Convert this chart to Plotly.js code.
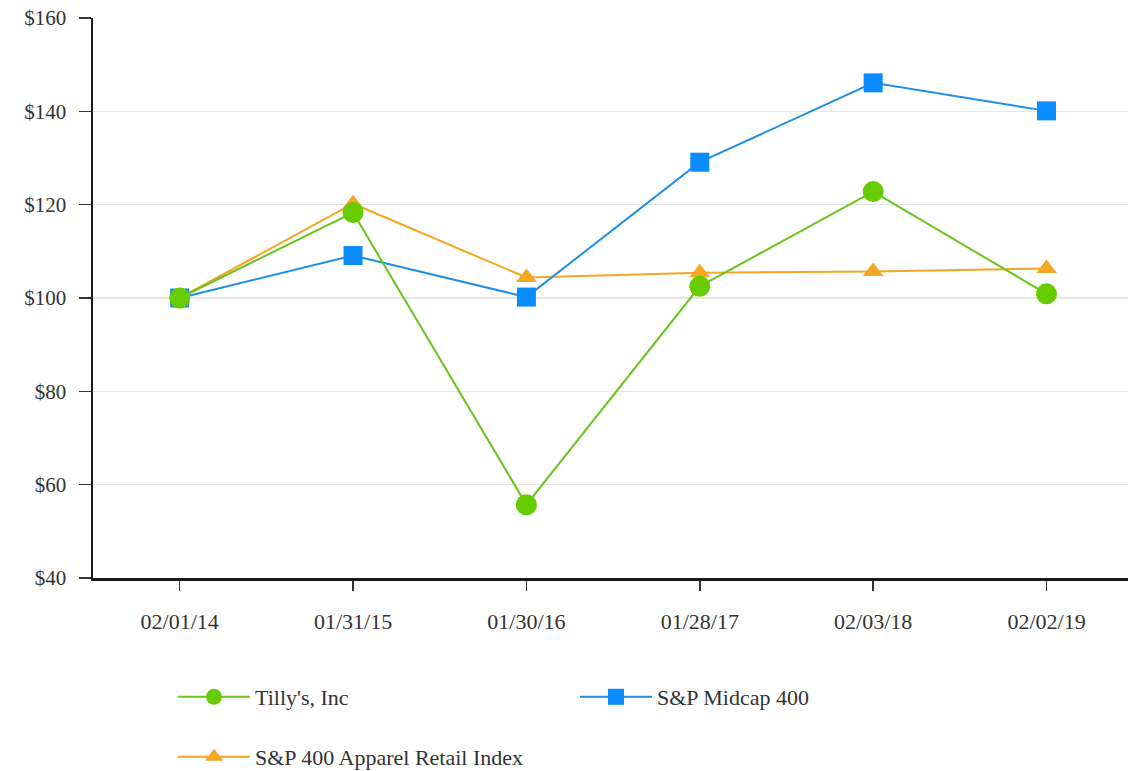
<!DOCTYPE html>
<html><head><meta charset="utf-8">
<script src="https://cdn.plot.ly/plotly-3.0.1.min.js"></script>
<style>html,body{margin:0;padding:0;background:#fff;}#chart{width:1128px;height:771px;}</style>
</head><body><div id="chart"></div>
<script>
const dates = ["02/01/14","01/31/15","01/30/16","01/28/17","02/03/18","02/02/19"];
const tillys = [100, 118.3, 55.7, 102.5, 122.8, 100.9];
const midcap = [100, 109.1, 100.2, 129.1, 146.1, 140.1];
const apparel = [100, 120.2, 104.4, 105.4, 105.7, 106.3];
const yTicks = [40, 60, 80, 100, 120, 140, 160];
const yTickText = yTicks.map(v => "$" + v);

const serif = "Liberation Serif, Times New Roman, serif";
const textColor = "#333333";

const traces = [
  {x: dates, y: apparel, name: "S&P 400 Apparel Retail Index", type: "scatter", mode: "lines+markers",
   line: {color: "#f5a623", width: 2}, marker: {symbol: "triangle-up", size: 18, color: "#f5a623"},
   legend: "legend3", cliponaxis: false},
  {x: dates, y: midcap, name: "S&P Midcap 400", type: "scatter", mode: "lines+markers",
   line: {color: "#1e8fe8", width: 2}, marker: {symbol: "square", size: 19, color: "#0a8cff"},
   legend: "legend2", cliponaxis: false},
  {x: dates, y: tillys, name: "Tilly's, Inc", type: "scatter", mode: "lines+markers",
   line: {color: "#66c61c", width: 2}, marker: {symbol: "circle", size: 21, color: "#66cc00"},
   legend: "legend", cliponaxis: false}
];

const legFont = {family: serif, size: 22, color: textColor};
const layout = {
  width: 1128, height: 771,
  margin: {l: 93, r: 0, t: 18, b: 193, autoexpand: false},
  paper_bgcolor: "#fff", plot_bgcolor: "#fff",
  font: {family: serif, color: textColor, size: 21},
  showlegend: true,
  xaxis: {
    type: "category", range: [-0.5, 5.47],
    showline: true, linecolor: "#1a1a1a", linewidth: 2.5,
    ticks: "outside", ticklen: 10, tickcolor: "#333", tickwidth: 1.5,
    ticklabelstandoff: 12,
    showgrid: false, zeroline: false,
    tickfont: {family: serif, size: 22, color: textColor}
  },
  yaxis: {
    range: [40, 160], tickvals: yTicks, ticktext: yTickText,
    showline: true, linecolor: "#1a1a1a", linewidth: 2.5,
    ticks: "outside", ticklen: 12, tickcolor: "#333", tickwidth: 1.5,
    ticklabelstandoff: 8,
    showgrid: true, gridcolor: "#e6e6e6", gridwidth: 1.5, zeroline: false,
    tickfont: {family: serif, size: 21, color: textColor}
  },
  legend: {orientation: "h", x: 0.0773, xanchor: "left", y: -0.2125, yanchor: "middle", itemwidth: 72, font: legFont},
  legend2: {orientation: "h", x: 0.4657, xanchor: "left", y: -0.2125, yanchor: "middle", itemwidth: 72, font: legFont},
  legend3: {orientation: "h", x: 0.0773, xanchor: "left", y: -0.3196, yanchor: "middle", itemwidth: 72, font: legFont}
};

Plotly.newPlot("chart", traces, layout, {displayModeBar: false, staticPlot: true});
</script></body></html>
